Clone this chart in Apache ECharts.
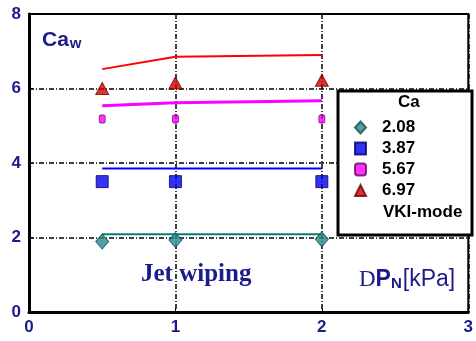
<!DOCTYPE html>
<html>
<head>
<meta charset="utf-8">
<script src="https://cdn.jsdelivr.net/npm/echarts@6/dist/echarts.min.js"></script>
<style>
  html, body { margin: 0; padding: 0; background: #fff; }
  #chart { width: 476px; height: 341px; }
</style>
</head>
<body>
<div id="chart"></div>
<script>
// Nozzle pressure drop [kPa] for the measured points
const pressure = [0.5, 1, 2];
// Measured wiped-film capillary numbers, one list per Ca
const ca208 = [1.89, 1.93, 1.95];
const ca387 = [3.5, 3.5, 3.5];
const ca567 = [5.18, 5.18, 5.18];
const ca697 = [6.0, 6.15, 6.22];
// VKI-mode predictions at the same pressures
const vki208 = [2.09, 2.09, 2.09];
const vki387 = [3.85, 3.85, 3.85];
const vki567 = [5.54, 5.62, 5.67];
const vki697 = [6.52, 6.85, 6.9];
const caLabels = ['2.08', '3.87', '5.67', '6.97'];
const xTicks = [0, 1, 2, 3];
const yTicks = [0, 2, 4, 6, 8];

const navy = '#1b1b8a';
const pts = (ys) => pressure.map((x, i) => [x, ys[i]]);

const chart = echarts.init(document.getElementById('chart'));

const tri = 'path://M50 0 L100 100 L0 100 Z';

const lineSeries = (name, ys, color, width) => ({
  name, type: 'line', data: pts(ys), symbol: 'none', z: 2,
  lineStyle: { color, width }
});

const scatterSeries = (name, ys, symbol, size, color, border) => ({
  name, type: 'scatter', data: pts(ys), symbol, symbolSize: size, z: 4,
  itemStyle: { color, borderColor: border, borderWidth: 1 }
});

chart.setOption({
  animation: false,
  grid: {
    left: 29, right: 2, top: 14, bottom: 29,
    show: true, borderColor: '#000', borderWidth: 2
  },
  xAxis: {
    type: 'value', min: xTicks[0], max: xTicks[xTicks.length - 1], interval: 1,
    axisLine: { lineStyle: { color: '#000', width: 3 } },
    axisTick: { inside: true, length: 4, lineStyle: { color: '#000' } },
    axisLabel: { color: navy, fontFamily: 'Arial, Liberation Sans', fontWeight: 'bold', fontSize: 17, margin: 7 },
    splitLine: { show: true, lineStyle: { color: '#000', width: 1.5, type: [5, 2, 1, 2] } }
  },
  yAxis: {
    type: 'value', min: yTicks[0], max: yTicks[yTicks.length - 1], interval: 2,
    axisLine: { lineStyle: { color: '#000', width: 3 } },
    axisTick: { inside: true, length: 4, lineStyle: { color: '#000' } },
    axisLabel: { color: navy, fontFamily: 'Arial, Liberation Sans', fontWeight: 'bold', fontSize: 17, margin: 8 },
    splitLine: { show: true, lineStyle: { color: '#000', width: 1.5, type: [5, 2, 1, 2] } }
  },
  legend: {
    data: caLabels,
    orient: 'vertical',
    left: 354, top: 119,
    padding: 0,
    itemGap: 4, itemWidth: 11, itemHeight: 12,
    textStyle: { color: '#000', fontFamily: 'Arial, Liberation Sans', fontWeight: 'bold', fontSize: 17, padding: [0, 0, 0, 11] },
    z: 10
  },
  graphic: [
    { type: 'rect', shape: { x: 338, y: 91, width: 134, height: 144 },
      style: { fill: '#fff', stroke: '#000', lineWidth: 3 }, z: 5 },
    { type: 'text', left: 398, top: 94, z: 11,
      style: { text: 'Ca', fill: '#000', font: 'bold 17px Arial, Liberation Sans' } },
    { type: 'text', left: 383, top: 204, z: 11,
      style: { text: 'VKI-mode', fill: '#000', font: 'bold 17px Arial, Liberation Sans' } },
    { type: 'text', left: 42, top: 30, z: 11,
      style: {
        text: '{a|Ca}{b|w}',
        rich: {
          a: { fill: navy, font: 'bold 21px Arial, Liberation Sans', verticalAlign: 'bottom' },
          b: { fill: navy, font: 'bold 15px Arial, Liberation Sans', padding: [8, 0, 0, 1], verticalAlign: 'bottom' }
        }
      } },
    { type: 'text', left: 141, top: 262, z: 11,
      style: { text: 'Jet wiping', fill: navy, font: 'bold 25px Liberation Serif, Times New Roman, serif' } },
    { type: 'text', left: 359, top: 268, z: 11,
      style: {
        text: '{d|D}{p|P}{n|N}{k|[kPa]}',
        rich: {
          d: { fill: navy, font: '23px Liberation Serif, serif', verticalAlign: 'bottom' },
          p: { fill: navy, font: 'bold 23px Arial, Liberation Sans', verticalAlign: 'bottom' },
          n: { fill: navy, font: 'bold 15px Arial, Liberation Sans', padding: [8, 1, 0, 0], verticalAlign: 'bottom' },
          k: { fill: navy, font: '23px Arial, Liberation Sans', verticalAlign: 'bottom' }
        }
      } }
  ],
  series: [
    lineSeries('VKI ' + caLabels[0], vki208, '#008080', 2),
    lineSeries('VKI ' + caLabels[1], vki387, '#0000ff', 2),
    lineSeries('VKI ' + caLabels[2], vki567, '#ff00ff', 3),
    lineSeries('VKI ' + caLabels[3], vki697, '#ff0000', 2),
    scatterSeries(caLabels[0], ca208, 'diamond', [13, 15], '#2a8a8a', '#0f5050'),
    scatterSeries(caLabels[1], ca387, 'rect', 12, '#0000ee', '#00006a'),
    scatterSeries(caLabels[2], ca567, 'roundRect', [6, 8], '#ff00ff', '#6a006a'),
    scatterSeries(caLabels[3], ca697, tri, [13, 12], '#d40000', '#700000')
  ]
});
</script>
</body>
</html>
